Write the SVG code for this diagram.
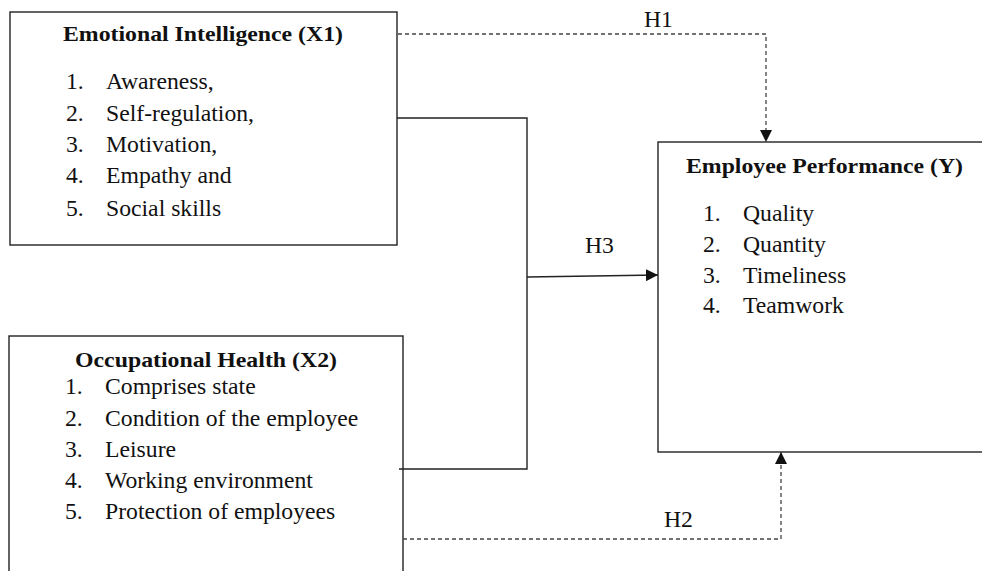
<svg xmlns="http://www.w3.org/2000/svg" width="982" height="571" viewBox="0 0 982 571">
<defs>
<style>
.box{fill:#fff;stroke:#222;stroke-width:1.4}
.t{font-family:"Liberation Serif","Times New Roman",serif;font-weight:bold;font-size:22px;fill:#111}
.i{font-family:"Liberation Serif","Times New Roman",serif;font-size:23.7px;fill:#111}
.solid{fill:none;stroke:#222;stroke-width:1.4}
.dash{fill:none;stroke:#444;stroke-width:1.3;stroke-dasharray:4 3}
</style>
<marker id="ah" viewBox="0 0 12 12" refX="12" refY="6" markerWidth="12" markerHeight="12" markerUnits="userSpaceOnUse" orient="auto">
<path d="M0,0 L12,6 L0,12 Z" fill="#111"/>
</marker>
</defs>
<rect width="982" height="571" fill="#fff"/>
<g id="x1">
<rect class="box" x="10" y="12" width="387" height="233"/>
<text class="t" x="63" y="41" textLength="280" lengthAdjust="spacingAndGlyphs">Emotional Intelligence (X1)</text>
<text class="i" x="66" y="89">1.</text><text class="i" x="106" y="89">Awareness,</text>
<text class="i" x="66" y="121">2.</text><text class="i" x="106" y="121">Self-regulation,</text>
<text class="i" x="66" y="152">3.</text><text class="i" x="106" y="152">Motivation,</text>
<text class="i" x="66" y="183">4.</text><text class="i" x="106" y="183">Empathy and</text>
<text class="i" x="66" y="216">5.</text><text class="i" x="106" y="216">Social skills</text>
</g>
<g id="x2">
<rect class="box" x="9" y="336" width="394" height="260"/>
<text class="t" x="75" y="367" textLength="262" lengthAdjust="spacingAndGlyphs">Occupational Health (X2)</text>
<text class="i" x="65" y="394">1.</text><text class="i" x="105" y="394">Comprises state</text>
<text class="i" x="65" y="426">2.</text><text class="i" x="105" y="426">Condition of the employee</text>
<text class="i" x="65" y="457">3.</text><text class="i" x="105" y="457">Leisure</text>
<text class="i" x="65" y="488">4.</text><text class="i" x="105" y="488">Working environment</text>
<text class="i" x="65" y="519">5.</text><text class="i" x="105" y="519">Protection of employees</text>
</g>
<g id="y">
<rect class="box" x="658" y="142" width="340" height="310"/>
<text class="t" x="686" y="173" textLength="277" lengthAdjust="spacingAndGlyphs">Employee Performance (Y)</text>
<text class="i" x="703" y="221">1.</text><text class="i" x="743" y="221">Quality</text>
<text class="i" x="703" y="252">2.</text><text class="i" x="743" y="252">Quantity</text>
<text class="i" x="703" y="283">3.</text><text class="i" x="743" y="283">Timeliness</text>
<text class="i" x="703" y="313">4.</text><text class="i" x="743" y="313">Teamwork</text>
</g>
<g id="connectors">
<path class="dash" d="M398,34 H766 V142" marker-end="url(#ah)"/>
<path class="solid" d="M397,118 H527 V469 H399"/>
<path class="solid" d="M527,277 L658,275" marker-end="url(#ah)"/>
<path class="dash" d="M403,539 H781 V452" marker-end="url(#ah)"/>
<text class="i" x="644" y="27">H1</text>
<text class="i" x="585" y="253">H3</text>
<text class="i" x="664" y="527">H2</text>
</g>
</svg>
